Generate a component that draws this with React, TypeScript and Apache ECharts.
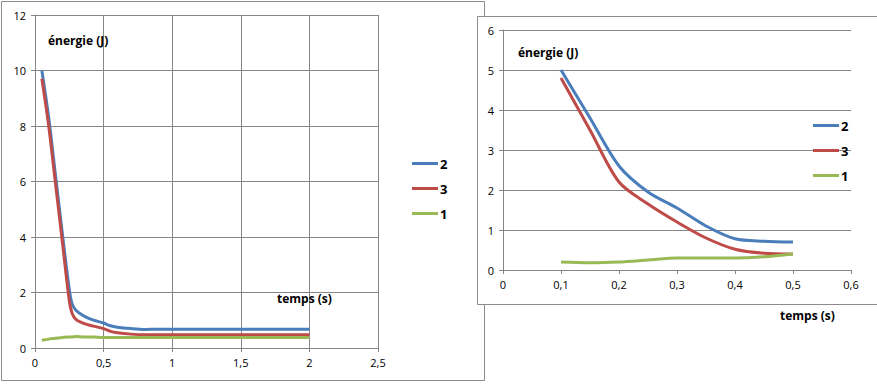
import React, { useEffect, useRef } from "react";
import * as echarts from "echarts";

// Left chart (0 – 2 s)
const leftX = [0.05, 0.1, 0.15, 0.2, 0.25, 0.27, 0.3, 0.35, 0.4, 0.45, 0.5, 0.55, 0.6, 0.7, 0.8, 0.9, 1, 1.5, 2];
const leftBlue = [10, 8.3, 6.2, 4.1, 2.1, 1.6, 1.35, 1.17, 1.05, 0.97, 0.9, 0.8, 0.75, 0.7, 0.67, 0.68, 0.68, 0.68, 0.68];
const leftRed = [9.7, 8.0, 5.9, 3.8, 1.7, 1.25, 1.02, 0.9, 0.82, 0.76, 0.7, 0.6, 0.55, 0.5, 0.48, 0.48, 0.48, 0.48, 0.48];
const leftGreen = [0.28, 0.32, 0.35, 0.38, 0.4, 0.4, 0.41, 0.4, 0.4, 0.39, 0.38, 0.38, 0.38, 0.38, 0.38, 0.38, 0.38, 0.38, 0.38];

// Right chart (0.1 – 0.5 s)
const rightX = [0.1, 0.15, 0.2, 0.25, 0.3, 0.35, 0.4, 0.45, 0.5];
const rightBlue = [5.0, 3.8, 2.6, 1.95, 1.55, 1.1, 0.78, 0.72, 0.7];
const rightRed = [4.8, 3.5, 2.2, 1.65, 1.2, 0.8, 0.52, 0.42, 0.4];
const rightGreen = [0.2, 0.18, 0.2, 0.25, 0.3, 0.3, 0.3, 0.33, 0.4];

const seriesNames = ["2", "3", "1"];
const colors = ["#4a7ebb", "#be4b48", "#98b954"];

const leftXTicks = { min: 0, max: 2.5, interval: 0.5 };
const leftYTicks = { min: 0, max: 12, interval: 2 };
const rightXTicks = { min: 0, max: 0.6, interval: 0.1 };
const rightYTicks = { min: 0, max: 6, interval: 1 };

const FONT = "'Open Sans', 'Noto Sans', sans-serif";
const GRID = "#868686";

const fmt = (v: number) => String(Math.round(v * 10) / 10).replace(".", ",");

function axisCommon(extra: any) {
  return {
    type: "value",
    axisLine: { show: true, lineStyle: { color: GRID, width: 1 } },
    axisTick: { show: true, length: 4, lineStyle: { color: GRID } },
    splitLine: { show: true, lineStyle: { color: GRID, width: 1 } },
    axisLabel: { color: "#000", fontFamily: FONT, fontSize: 11, formatter: fmt, margin: 9 },
    ...extra,
  };
}

function mk(xs: number[], ys: number[]) {
  return xs.map((x, i) => [x, ys[i]]);
}

export default function App() {
  const ref = useRef<HTMLDivElement>(null);
  useEffect(() => {
    document.body.style.margin = "0";
    const chart = echarts.init(ref.current!, undefined, { renderer: "svg" });
    const leftData = [leftBlue, leftRed, leftGreen];
    const rightData = [rightBlue, rightRed, rightGreen];
    const series: any[] = [];
    seriesNames.forEach((n, i) => {
      series.push({
        name: n,
        type: "line",
        xAxisIndex: 0,
        yAxisIndex: 0,
        data: mk(leftX, leftData[i]),
        smooth: 0.3,
        symbol: "none",
        lineStyle: { color: colors[i], width: 3 },
        itemStyle: { color: colors[i] },
      });
    });
    seriesNames.forEach((n, i) => {
      series.push({
        name: n,
        type: "line",
        xAxisIndex: 1,
        yAxisIndex: 1,
        data: mk(rightX, rightData[i]),
        smooth: 0.3,
        symbol: "none",
        lineStyle: { color: colors[i], width: 3 },
        itemStyle: { color: colors[i] },
      });
    });
    const legendCommon = {
      orient: "vertical",
      data: seriesNames,
      icon: "rect",
      itemWidth: 26,
      itemHeight: 3,
      itemGap: 12,
      textStyle: { fontFamily: FONT, fontSize: 13, fontWeight: "bold", color: "#000", padding: [0, 0, 0, -3] },
      selectedMode: false,
    };
    const boldText = (x: number, y: number, t: string) => ({
      type: "text",
      x,
      y,
      style: { text: t, fontFamily: FONT, fontSize: 12, fontWeight: "bold", fill: "#000", textVerticalAlign: "middle" },
      z: 10,
    });
    chart.setOption({
      animation: false,
      backgroundColor: "#fff",
      grid: [
        { left: 35, top: 15, width: 343, height: 333 },
        { left: 503, top: 30, width: 348, height: 240 },
      ],
      xAxis: [
        axisCommon({ gridIndex: 0, ...leftXTicks }),
        axisCommon({ gridIndex: 1, ...rightXTicks, splitLine: { show: false } }),
      ],
      yAxis: [
        axisCommon({ gridIndex: 0, ...leftYTicks }),
        axisCommon({ gridIndex: 1, ...rightYTicks }),
      ],
      legend: [
        { ...legendCommon, left: 407, top: 152 },
        { ...legendCommon, left: 808, top: 114 },
      ],
      graphic: [
        {
          type: "polyline",
          shape: { points: [[484.5, 16], [484.5, 1.5], [1.5, 1.5], [1.5, 380.5], [484.5, 380.5], [484.5, 304]] },
          style: { stroke: "#8c8c8c", fill: null, lineWidth: 1 },
          silent: true,
        },
        {
          type: "polyline",
          shape: { points: [[880, 16.5], [477.5, 16.5], [477.5, 304.5], [880, 304.5]] },
          style: { stroke: "#8c8c8c", fill: null, lineWidth: 1 },
          silent: true,
        },
        boldText(48, 40, "énergie (J)"),
        boldText(277, 298, "temps (s)"),
        boldText(518, 52, "énergie (J)"),
        boldText(780, 315, "temps (s)"),
      ],
      series,
    });
    return () => chart.dispose();
  }, []);
  return <div ref={ref} style={{ position: "absolute", left: 0, top: 0, width: 877, height: 391 }} />;
}
